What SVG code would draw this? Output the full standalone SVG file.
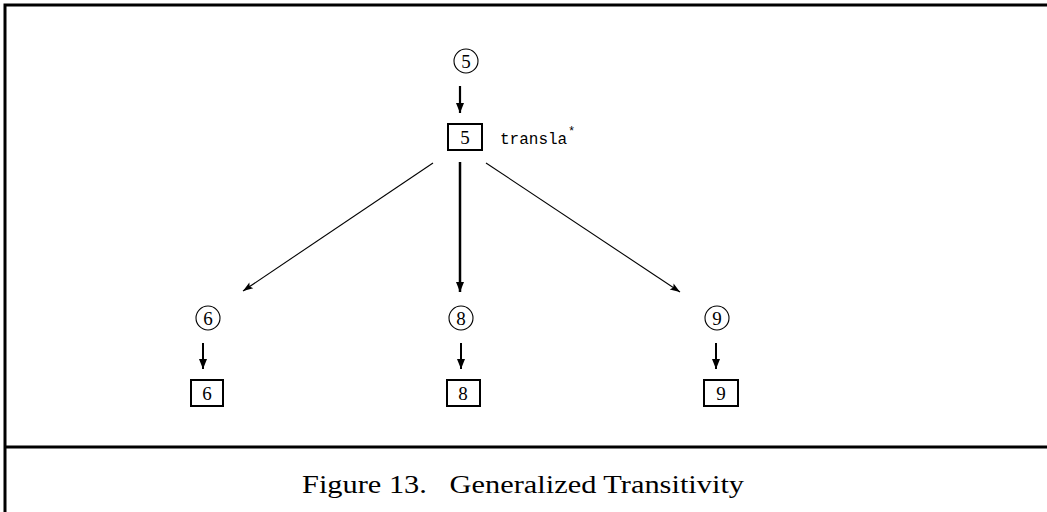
<svg xmlns="http://www.w3.org/2000/svg" width="1047" height="512" viewBox="0 0 1047 512">
<style>
.num{font-family:"Liberation Serif",serif;font-size:19px;text-anchor:middle;fill:#000}
.circ{fill:none;stroke:#000;stroke-width:1.1}
.box{fill:none;stroke:#000;stroke-width:2}
.frame{stroke:#000;stroke-width:3;fill:none}
.cap{font-family:"Liberation Serif",serif;font-size:25px;fill:#000}
.mono{font-family:"Liberation Mono",monospace;font-size:16px;fill:#000}
</style>
<defs>
<marker id="ah" viewBox="0 0 10 10" refX="10" refY="5" markerWidth="10" markerHeight="10" markerUnits="userSpaceOnUse" orient="auto">
<path d="M0,1 L10,5 L0,9 Z" fill="#000"/>
</marker>
<marker id="ahs" viewBox="0 0 10 10" refX="10" refY="5" markerWidth="14" markerHeight="10" markerUnits="userSpaceOnUse" orient="auto">
<path d="M0,1.5 L10,5 L0,8.5 L2,5 Z" fill="#000"/>
</marker>
</defs>
<rect width="1047" height="512" fill="#fff"/>
<g id="frame">
<path class="frame" d="M5,512 V5 H1047"/>
<path class="frame" d="M5,447 H1047"/>
</g>
<g id="connectors">
<line x1="460" y1="86" x2="460" y2="113" stroke="#000" stroke-width="2.2" marker-end="url(#ah)"/>
<line x1="460" y1="162" x2="460" y2="292" stroke="#000" stroke-width="2.5" marker-end="url(#ah)"/>
<line x1="433" y1="163" x2="243" y2="291" stroke="#000" stroke-width="1.1" marker-end="url(#ahs)"/>
<line x1="486" y1="163" x2="680" y2="292" stroke="#000" stroke-width="1.1" marker-end="url(#ahs)"/>
<line x1="203" y1="343" x2="203" y2="369" stroke="#000" stroke-width="2" marker-end="url(#ah)"/>
<line x1="461" y1="343" x2="461" y2="369" stroke="#000" stroke-width="2" marker-end="url(#ah)"/>
<line x1="716" y1="343" x2="716" y2="369" stroke="#000" stroke-width="2" marker-end="url(#ah)"/>
</g>
<g id="c5"><circle class="circ" cx="466" cy="61" r="12"/><text class="num" x="466" y="67.5">5</text></g>
<g id="b5"><rect class="box" x="448" y="124" width="34" height="26"/><text class="num" x="465" y="144">5</text>
<text class="mono" x="500" y="144">transla</text><text class="mono" x="568" y="135" style="font-size:12px">*</text></g>
<g id="c6"><circle class="circ" cx="208" cy="318" r="12"/><text class="num" x="208" y="324.5">6</text></g>
<g id="b6"><rect class="box" x="191" y="380" width="32" height="26"/><text class="num" x="207" y="400">6</text></g>
<g id="c8"><circle class="circ" cx="461" cy="318" r="12"/><text class="num" x="461" y="324.5">8</text></g>
<g id="b8"><rect class="box" x="447" y="380" width="33" height="26"/><text class="num" x="463" y="400">8</text></g>
<g id="c9"><circle class="circ" cx="717" cy="318" r="12"/><text class="num" x="717" y="324.5">9</text></g>
<g id="b9"><rect class="box" x="704" y="380" width="34" height="26"/><text class="num" x="721" y="400">9</text></g>
<g id="caption"><text class="cap" x="302" y="493" textLength="442" lengthAdjust="spacingAndGlyphs" xml:space="preserve">Figure 13.   Generalized Transitivity</text></g>
</svg>
